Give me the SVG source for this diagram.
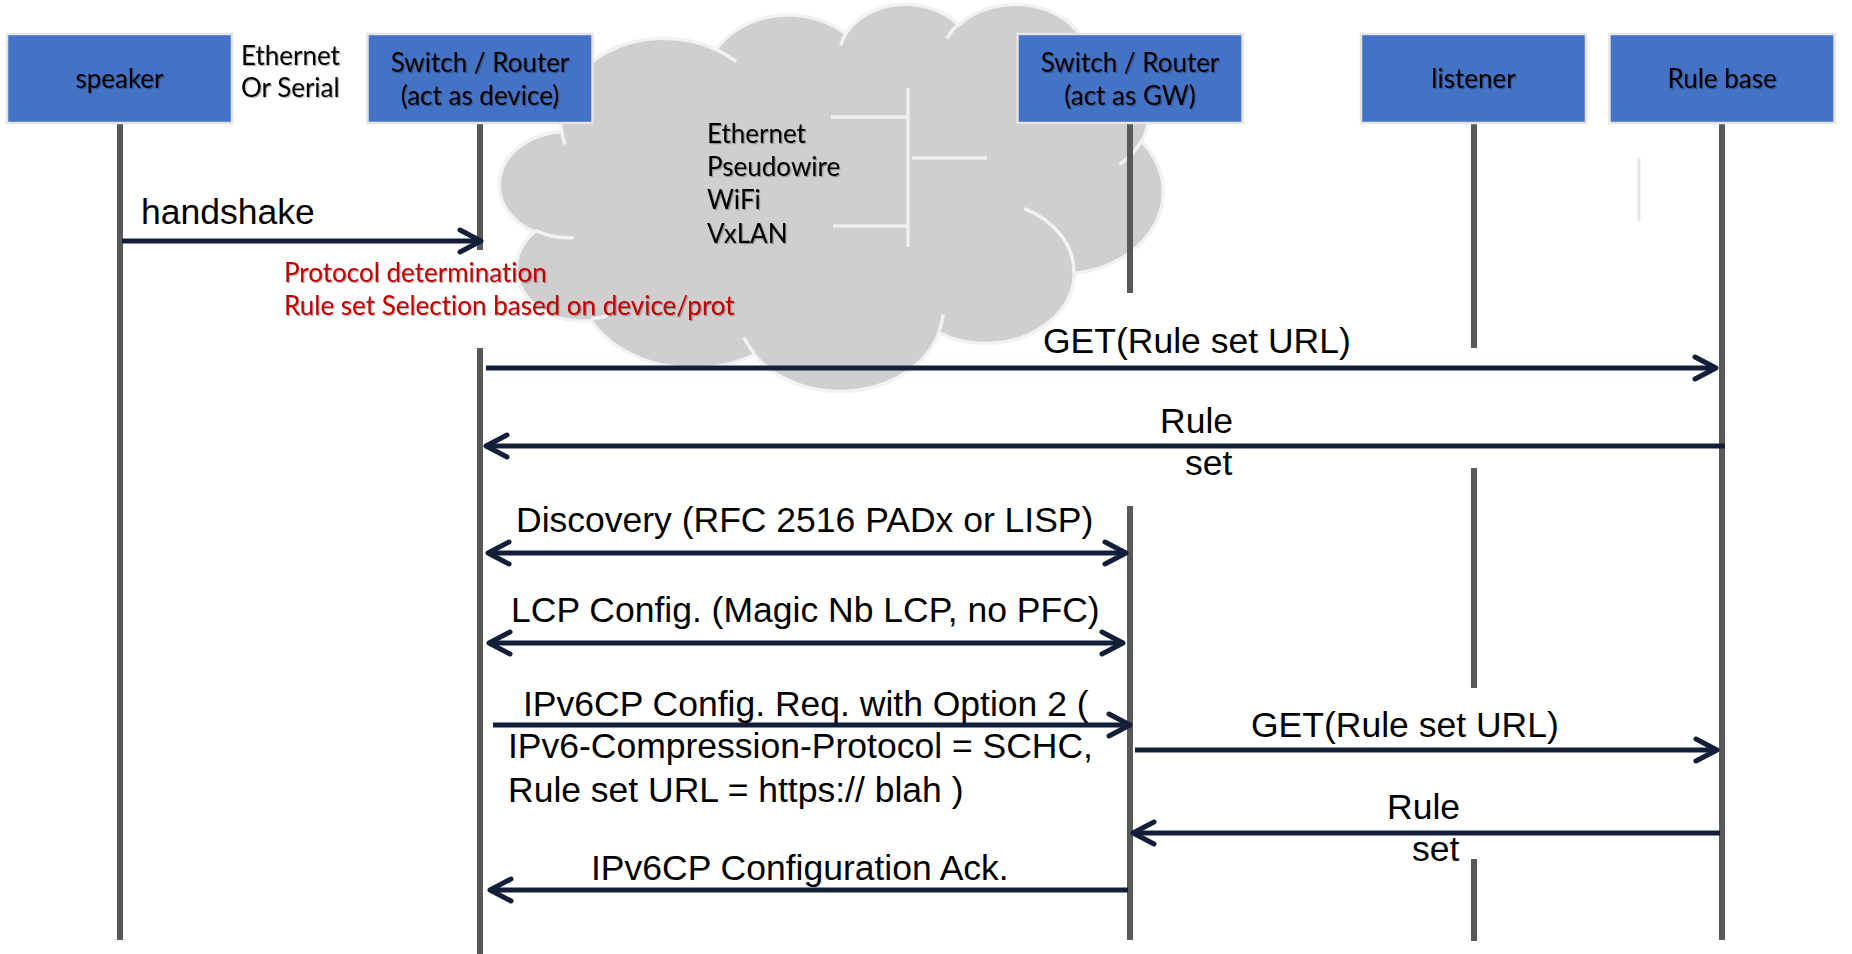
<svg xmlns="http://www.w3.org/2000/svg" width="1852" height="954" viewBox="0 0 1852 954">
<style>
.box{fill:#4472c4;stroke:#e4e4e4;stroke-width:2.5}
.cal{font-family:Lato,"Noto Sans",sans-serif;font-size:26px;fill:#000;font-variant-ligatures:none}
.ctr{text-anchor:middle}
.red{fill:#c00000}
.lbl{font-family:"Liberation Sans",Arial,sans-serif;font-size:35.5px;fill:#000}
.life{stroke:#595959;stroke-width:6;fill:none}
.msg{stroke:#131f38;stroke-width:5;fill:none}
.cl{fill:#d0cecf;stroke:#f2f2f2;stroke-width:3.5}
.cli{fill:none;stroke:#f2f2f2;stroke-width:3.5}
.tree{stroke:#efefef;stroke-width:3.5;fill:none}
</style>
<defs>
<marker id="ah" markerUnits="userSpaceOnUse" orient="auto-start-reverse" viewBox="-25 -15 30 30" refX="0" refY="0" markerWidth="30" markerHeight="30" overflow="visible">
<path d="M-21,-11 L0,0 L-21,11" fill="none" stroke="#131f38" stroke-width="5" stroke-linecap="round" stroke-linejoin="round"/>
</marker>
<filter id="ts" x="-5%" y="-30%" width="110%" height="160%">
<feDropShadow dx="1.2" dy="1.2" stdDeviation="0.7" flood-color="#000" flood-opacity="0.3"/>
</filter>
</defs>
<rect width="1852" height="954" fill="#fff"/>

<g id="cloud">
<g transform="translate(502,3) scale(0.015301,0.0089583)">
<path class="cl" vector-effect="non-scaling-stroke" d="M3900 14370 A6753 9190 0 0 1 14004 5201 A5333 7267 0 0 1 22458 3429 A4365 5945 0 0 1 29835 2478 A4857 6595 0 0 1 38320 5573 A5333 7273 0 0 1 41820 15457 A6775 9220 0 0 1 37406 30200 A5785 7867 0 0 1 28557 36810 A6752 9215 0 0 1 16482 39264 A7720 10543 0 0 1 5807 35468 A4360 5918 0 0 1 2115 25548 A4345 5945 0 0 1 3900 14370 Z"/>
<path class="cli" vector-effect="non-scaling-stroke" d="M4693 26177 A4345 5945 0 0 1 2160 25380 M6928 34899 A4360 5918 0 0 1 5820 35280 M16478 39090 A6752 9215 0 0 1 15809 37348 M28827 34751 A6752 9215 0 0 1 28561 36660 M34129 22954 A5785 7867 0 0 1 37381 30090 M41798 15354 A5333 7273 0 0 1 40350 18030 M38324 5426 A4857 6595 0 0 1 38400 6689 M29078 3952 A4857 6595 0 0 1 29820 2340 M22141 4720 A4365 5945 0 0 1 22500 3330 M14000 5192 A6753 9190 0 0 1 15303 6544 M4127 15789 A6753 9190 0 0 1 3900 14370"/>
</g>
<path class="tree" d="M908 88 V247 M831 117 H908 M833 226 H908 M912 158 H987"/>
<g class="cal" filter="url(#ts)">
<text x="707" y="143">Ethernet</text>
<text x="707" y="176">Pseudowire</text>
<text x="707" y="209">WiFi</text>
<text x="707" y="243">VxLAN</text>
</g>
</g>

<g id="lifelines">
<path class="life" d="M120 123 V940"/>
<path class="life" d="M480 123 V250 M480 348 V954"/>
<path class="life" d="M1130 123 V293 M1130 506 V940"/>
<path class="life" d="M1474 123 V348 M1474 468 V688 M1474 859 V941"/>
<path class="life" d="M1722 123 V940"/>
<path d="M1639 158 V221" stroke="#e6e6e6" stroke-width="3"/>
</g>

<g id="speaker">
<rect class="box" x="7" y="34" width="225" height="89"/>
<text class="cal ctr" x="119.5" y="88" filter="url(#ts)">speaker</text>
</g>
<g id="device">
<rect class="box" x="367.5" y="34" width="225" height="89"/>
<g class="cal ctr" filter="url(#ts)">
<text x="480" y="72">Switch / Router</text>
<text x="480" y="105">(act as device)</text>
</g>
</g>
<g id="gateway">
<rect class="box" x="1017.5" y="34" width="225" height="89"/>
<g class="cal ctr" filter="url(#ts)">
<text x="1130" y="72">Switch / Router</text>
<text x="1130" y="105">(act as GW)</text>
</g>
</g>
<g id="listener">
<rect class="box" x="1361" y="34" width="225" height="89"/>
<text class="cal ctr" x="1473.5" y="88" filter="url(#ts)">listener</text>
</g>
<g id="rulebase">
<rect class="box" x="1609.5" y="34" width="225" height="89"/>
<text class="cal ctr" x="1722" y="88" filter="url(#ts)">Rule base</text>
</g>

<g id="link-note" class="cal" filter="url(#ts)">
<text x="241" y="65">Ethernet</text>
<text x="241" y="97">Or Serial</text>
</g>
<g id="device-note" class="cal red" filter="url(#ts)">
<text x="284" y="282">Protocol determination</text>
<text x="284" y="315">Rule set Selection based on device/prot</text>
</g>

<g id="connectors">
<path class="msg" d="M122 241 H481" marker-end="url(#ah)"/>
<path class="msg" d="M486 368 H1716" marker-end="url(#ah)"/>
<path class="msg" d="M1725 446 H486" marker-end="url(#ah)"/>
<path class="msg" d="M488 553 H1126" marker-start="url(#ah)" marker-end="url(#ah)"/>
<path class="msg" d="M489 643 H1123" marker-start="url(#ah)" marker-end="url(#ah)"/>
<path class="msg" d="M493 725 H1130" marker-end="url(#ah)"/>
<path class="msg" d="M1135 750 H1717" marker-end="url(#ah)"/>
<path class="msg" d="M1720 833 H1133" marker-end="url(#ah)"/>
<path class="msg" d="M1128 890 H490" marker-end="url(#ah)"/>
</g>

<g id="labels" class="lbl">
<text x="141" y="224">handshake</text>
<text x="1043" y="353">GET(Rule set URL)</text>
<text x="1160" y="433">Rule</text>
<text x="1185" y="475">set</text>
<text x="516" y="532">Discovery (RFC 2516 PADx or LISP)</text>
<text x="511" y="622">LCP Config. (Magic Nb LCP, no PFC)</text>
<text x="523" y="716">IPv6CP Config. Req. with Option 2 (</text>
<text x="508" y="758">IPv6-Compression-Protocol = SCHC,</text>
<text x="508" y="802">Rule set URL = https:// blah )</text>
<text x="1251" y="737">GET(Rule set URL)</text>
<text x="1387" y="819">Rule</text>
<text x="1412" y="861">set</text>
<text x="591" y="880">IPv6CP Configuration Ack.</text>
</g>
</svg>
